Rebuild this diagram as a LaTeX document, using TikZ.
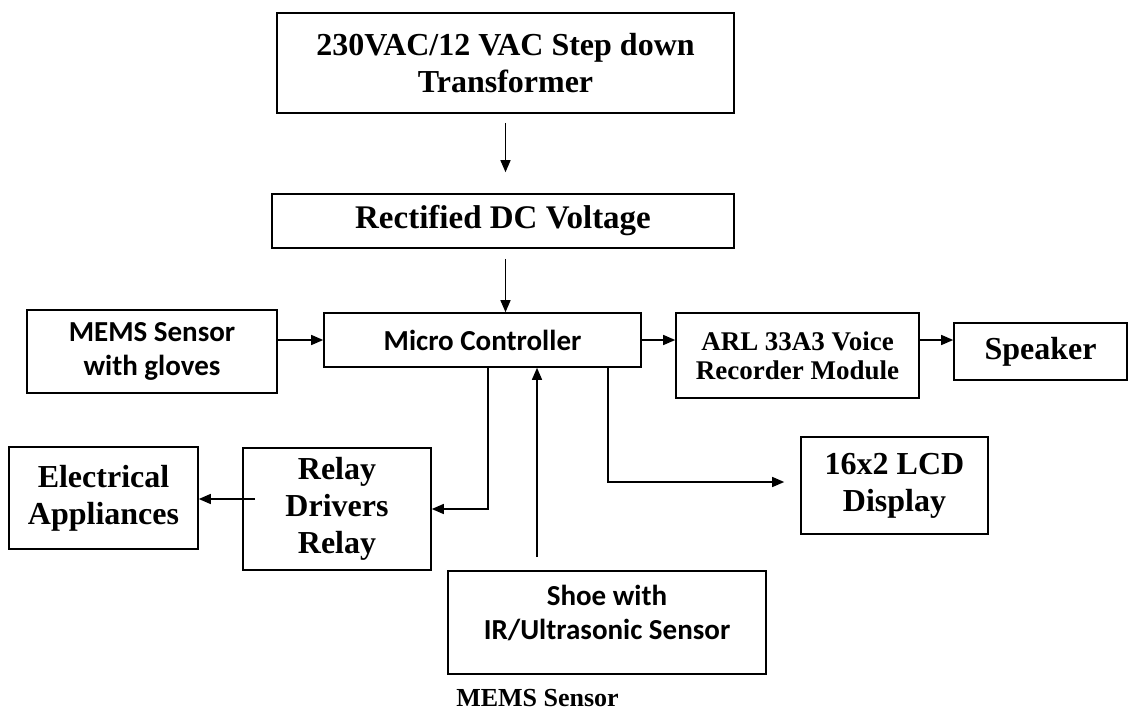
\documentclass[tikz,border=0pt]{standalone}
\usepackage{fontspec}
\setmainfont{Liberation Serif}
\newfontfamily\calibri{Carlito}
\usetikzlibrary{arrows.meta,calc,positioning}
\tikzset{>={Triangle[length=6pt,width=5pt]},
  block/.style={draw,line width=.8pt,align=center,inner sep=2pt},
  serifblock/.style={block,font=\fontsize{16}{18.5}\selectfont\bfseries},
  smallserif/.style={block,font=\fontsize{13.5}{14.5}\selectfont\bfseries},
  sansblock/.style={block,font=\fontsize{14.5}{17}\selectfont\calibri\bfseries},
  flow/.style={->,line width=.7pt}}

\begin{document}
\begin{tikzpicture}[x=.5pt,y=-.5pt]
\useasboundingbox (0,0) rectangle (1128,711);
\node[serifblock,minimum width=228.5pt,minimum height=50pt] (trans) at (505.5,63) {230VAC/12 VAC Step down\\Transformer};
\node[serifblock,font=\fontsize{16.5}{19}\selectfont\bfseries,minimum width=231pt,minimum height=27pt] (rect) at (503,221) {Rectified DC Voltage};
\node[sansblock,minimum width=125pt,minimum height=41.5pt] (mems) at (152,351.5) {MEMS Sensor\\with gloves};
\node[sansblock,minimum width=158.5pt,minimum height=27pt] (micro) at (482.5,340) {Micro Controller};
\node[smallserif,minimum width=121.5pt,minimum height=42.5pt] (arl) at (797.5,355.5) {ARL 33A3 Voice\\Recorder Module};
\node[serifblock,minimum width=86.5pt,minimum height=28.5pt] (speaker) at (1040.5,351.5) {Speaker};
\node[serifblock,minimum width=94.5pt,minimum height=51pt] (elec) at (103.5,498) {Electrical\\Appliances};
\node[serifblock,minimum width=94pt,minimum height=61pt] (relay) at (337,509) {Relay\\Drivers\\Relay};
\node[serifblock,minimum width=93.5pt,minimum height=48.5pt] (lcd) at (894.5,485.5) {16x2 LCD\\Display};
\node[sansblock,minimum width=159pt,minimum height=51.5pt] (shoe) at (607,622.5) {Shoe with\\IR/Ultrasonic Sensor\\[-7pt]~};
\node[font=\fontsize{13}{15}\selectfont\bfseries,anchor=base] (caption) at (537.5,706) {MEMS Sensor};
\coordinate (shoeout) at ([xshift=-35pt,yshift=6.5pt]shoe.north);
\draw[flow] ([yshift=-4.5pt]trans.south) -- ([yshift=10.5pt]trans.south |- rect.north);
\draw[flow] ([yshift=-5pt]trans.south |- rect.south) -- (trans.south |- micro.north);
\draw[flow] (mems.east |- micro.west) -- (micro.west);
\draw[flow] (micro.east) -- (micro.east -| arl.west);
\draw[flow] (micro.east -| arl.east) -- (micro.east -| speaker.west);
\draw[flow] ([xshift=2.75pt]micro.south) |- (relay.east);
\draw[flow] ([xshift=62.75pt]micro.south) |- ([xshift=-8pt,yshift=1.75pt]lcd.west);
\draw[flow] (shoeout) -- (shoeout |- micro.south);
\draw[flow] ([xshift=6.5pt,yshift=5pt]relay.west) -- ([yshift=5pt]relay.west -| elec.east);
\end{tikzpicture}
\end{document}
